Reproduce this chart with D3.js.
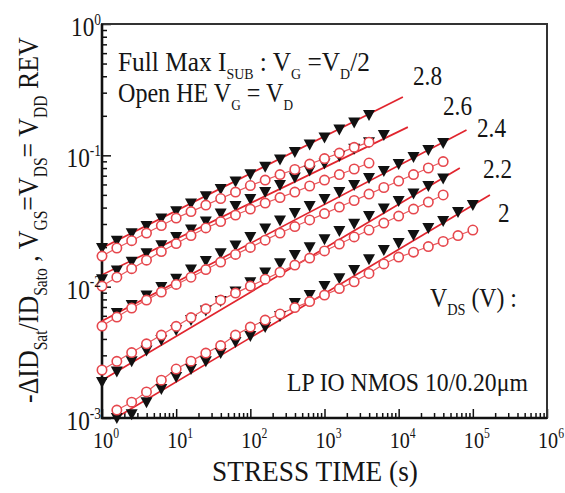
<!DOCTYPE html>
<html>
<head>
<meta charset="utf-8">
<script src="https://cdn.jsdelivr.net/npm/d3@7"></script>
<style>
  html, body { margin: 0; padding: 0; background: #fff; }
  svg text { font-family: "Liberation Serif", "Times New Roman", serif; fill: #151515; }
</style>
</head>
<body>
<div id="chart"></div>
<script>
// stress times, 5 points per decade
const stressTime = [1, 1.585, 2.512, 3.981, 6.310, 10, 15.85, 25.12, 39.81, 63.10,
  100, 158.5, 251.2, 398.1, 631.0, 1000, 1585, 2512, 3981, 6310,
  10000, 15850, 25120, 39810, 63100, 100000];

const vdsLabels = ["2.8", "2.6", "2.4", "2.2", "2"];

// Full Max ISUB (filled triangles), first point index into stressTime
const triStart = [0, 0, 1, 0, 1];
const tri28 = [0.0197, 0.0224, 0.0255, 0.0290, 0.0330, 0.0376, 0.0429, 0.0488, 0.0555, 0.0632,
  0.0719, 0.0818, 0.0931, 0.106, 0.121, 0.137, 0.157, 0.178, 0.203];
const tri26 = [0.0114, 0.0133, 0.0155, 0.0180, 0.0207, 0.0239, 0.0272, 0.0313, 0.0360, 0.0411,
  0.0465, 0.0525, 0.0594, 0.0677, 0.0766, 0.0866, 0.0988, 0.112, 0.126, 0.143];
const tri24 = [0.00629, 0.00724, 0.00855, 0.00993, 0.0115, 0.0135, 0.0157, 0.0180, 0.0206, 0.0239,
  0.0277, 0.0319, 0.0364, 0.0411, 0.0465, 0.0525, 0.0594, 0.0671, 0.0759, 0.0858, 0.0971, 0.110, 0.124];
const tri22 = [0.00188, 0.00226, 0.00271, 0.00326, 0.00392, 0.00467, 0.00557, 0.00658, 0.00777, 0.00918,
  0.0108, 0.0128, 0.0151, 0.0174, 0.0200, 0.0230, 0.0265, 0.0302, 0.0345, 0.0393, 0.0449, 0.0512, 0.0584, 0.0666];
const tri20 = [0.00100, 0.00107, 0.00132, 0.00166, 0.00205, 0.00236, 0.00271, 0.00312, 0.00379, 0.00421,
  0.00492, 0.00597, 0.00750, 0.00863, 0.0101, 0.0116, 0.0134, 0.0162, 0.0190, 0.0215, 0.0247, 0.0280, 0.0316, 0.0370, 0.0418];

// Open HE (open circles)
const circStart = [0, 0, 0, 0, 1];
const circ28 = [0.0171, 0.0197, 0.0224, 0.0256, 0.0292, 0.0333, 0.0373, 0.0418, 0.0469, 0.0525,
  0.0589, 0.0648, 0.0714, 0.0780, 0.0858, 0.0945, 0.104, 0.115, 0.126];
const circ26 = [0.0101, 0.0118, 0.0137, 0.0159, 0.0185, 0.0213, 0.0245, 0.0280, 0.0313, 0.0351,
  0.0390, 0.0433, 0.0477, 0.0525, 0.0584, 0.0648, 0.0714, 0.0787, 0.0874];
const circ24 = [0.00501, 0.00587, 0.00687, 0.00791, 0.00910, 0.0104, 0.0118, 0.0135, 0.0154, 0.0176,
  0.0199, 0.0226, 0.0256, 0.0287, 0.0322, 0.0360, 0.0404, 0.0453, 0.0507, 0.0569, 0.0637, 0.0714, 0.0801, 0.0897];
const circ22 = [0.00232, 0.00270, 0.00315, 0.00367, 0.00428, 0.00499, 0.00582, 0.00678, 0.00791, 0.00893,
  0.0101, 0.0114, 0.0129, 0.0146, 0.0165, 0.0187, 0.0211, 0.0239, 0.0270, 0.0305, 0.0345, 0.0390, 0.0441, 0.0499];
const circ20 = [0.00115, 0.00132, 0.00158, 0.00194, 0.00236, 0.00271, 0.00312, 0.00356, 0.00428, 0.00492,
  0.00557, 0.00619, 0.00693, 0.00770, 0.00863, 0.00967, 0.0109, 0.0126, 0.0149, 0.0168, 0.0183, 0.0202, 0.0221, 0.0245, 0.0270];

// power-law fit lines, from t = 1 s to the end time
const fitEndTime = [11400, 13300, 82200, 66800, 170000];
const fitStartValue = [0.0197, 0.0123, 0.00547, 0.00194, 0.000868];
const fitEndValue = [0.278, 0.164, 0.156, 0.0800, 0.0498];

// axis ticks
const xMajor = [1, 10, 100, 1e3, 1e4, 1e5, 1e6];
const xExp = ["0", "1", "2", "3", "4", "5", "6"];
const yMajor = [1, 0.1, 0.01, 0.001];
const yExp = ["0", "-1", "-2", "-3"];

const triValues = [tri28, tri26, tri24, tri22, tri20];
const circValues = [circ28, circ26, circ24, circ22, circ20];

function pairs(values, start) {
  return values.map((v, i) => ({ t: stressTime[start + i], v: v }));
}

const margin = { top: 24, right: 18, bottom: 75, left: 102 };
const width = 565 - margin.left - margin.right;
const height = 493 - margin.top - margin.bottom;

const root = d3.select("#chart")
  .append("svg")
  .attr("width", 565)
  .attr("height", 493);

const svg = root.append("g")
  .attr("transform", `translate(${margin.left},${margin.top})`);

const x = d3.scaleLog().domain([1, 1e6]).range([0, width]);
const y = d3.scaleLog().domain([1e-3, 1]).range([height, 0]);

// text helper: serif text with sub/superscripts, squeezed horizontally like the scan
function addText(parent, px, py, parts, opts) {
  const g = parent.append("g")
    .attr("transform", `translate(${px},${py})` + (opts.rotate ? ` rotate(${opts.rotate})` : ""));
  const t = g.append("text").attr("font-size", opts.size);
  const subScale = opts.subScale || 0.6;
  let shift = 0;
  parts.forEach(p => {
    const kind = Array.isArray(p) ? p[1] : "n";
    const str = Array.isArray(p) ? p[0] : p;
    let target = 0, fs = opts.size;
    if (kind === "sub") { target = opts.size * 0.3; fs = opts.size * subScale; }
    if (kind === "sup") { target = -opts.size * 0.42; fs = opts.size * 0.58; }
    t.append("tspan")
      .attr("dy", target - shift)
      .attr("font-size", fs)
      .text(str);
    shift = target;
  });
  const w = t.node().getComputedTextLength();
  const sx = opts.width ? opts.width / w : (opts.sx || 0.86);
  let dx = 0;
  if (opts.anchor === "middle") dx = -w * sx / 2;
  if (opts.anchor === "end") dx = -w * sx;
  t.attr("transform", `translate(${dx},0) scale(${sx},1)`);
  return t;
}

// clip for the fit lines
svg.append("clipPath").attr("id", "plotClip")
  .append("rect").attr("width", width).attr("height", height);

// Minor and major ticks (pointing inward)
const xMinor = [];
const yMinor = [];
for (let d = 0; d < 6; d++) for (let k = 2; k <= 9; k++) xMinor.push(k * Math.pow(10, d));
for (let d = -3; d < 0; d++) for (let k = 2; k <= 9; k++) yMinor.push(k * Math.pow(10, d));

svg.append("g")
  .attr("class", "x-axis")
  .attr("transform", `translate(0,${height})`)
  .call(d3.axisBottom(x).tickValues(xMinor).tickSize(-5).tickFormat(""))
  .call(g => g.select(".domain").remove());
svg.append("g")
  .attr("class", "x-axis")
  .attr("transform", `translate(0,${height})`)
  .call(d3.axisBottom(x).tickValues(xMajor).tickSize(-9).tickFormat(""))
  .call(g => g.select(".domain").remove());
svg.append("g")
  .attr("class", "y-axis")
  .call(d3.axisLeft(y).tickValues(yMinor).tickSize(-5).tickFormat(""))
  .call(g => g.select(".domain").remove());
svg.append("g")
  .attr("class", "y-axis")
  .call(d3.axisLeft(y).tickValues(yMajor).tickSize(-9).tickFormat(""))
  .call(g => g.select(".domain").remove());
svg.selectAll(".tick line").attr("stroke", "#111").attr("stroke-width", 1.5);

// frame
svg.append("rect")
  .attr("width", width).attr("height", height)
  .attr("fill", "none").attr("stroke", "#333").attr("stroke-width", 2);
svg.append("path")
  .attr("d", `M0,0V${height}H${width}`)
  .attr("fill", "none").attr("stroke", "#111").attr("stroke-width", 2.6);

// fit lines
const line = d3.line().x(d => x(d.t)).y(d => y(d.v));
vdsLabels.forEach((lab, i) => {
  svg.append("path")
    .datum([{ t: 1, v: fitStartValue[i] }, { t: fitEndTime[i], v: fitEndValue[i] }])
    .attr("clip-path", "url(#plotClip)")
    .attr("d", line)
    .attr("fill", "none")
    .attr("stroke", "#e1252e")
    .attr("stroke-width", 1.7);
});

// open HE connector lines
vdsLabels.forEach((lab, i) => {
  svg.append("path")
    .datum(pairs(circValues[i], circStart[i]))
    .attr("d", line)
    .attr("fill", "none")
    .attr("stroke", "#e9585d")
    .attr("stroke-width", 1.2);
});

// triangles
const triPath = "M-6,-5L6,-5L0,6Z";
vdsLabels.forEach((lab, i) => {
  svg.append("g").selectAll(".tri")
    .data(pairs(triValues[i], triStart[i]))
    .enter()
    .append("path")
    .attr("class", "tri")
    .attr("d", triPath)
    .attr("transform", d => `translate(${x(d.t)},${y(d.v)})`)
    .attr("fill", "#111");
});

// circles
vdsLabels.forEach((lab, i) => {
  svg.append("g").selectAll(".circ")
    .data(pairs(circValues[i], circStart[i]))
    .enter()
    .append("circle")
    .attr("class", "circ")
    .attr("cx", d => x(d.t))
    .attr("cy", d => y(d.v))
    .attr("r", 4.7)
    .attr("fill", "#fff")
    .attr("stroke", "#e6474d")
    .attr("stroke-width", 1.6);
});

// tick labels
xMajor.forEach((v, i) => {
  addText(svg, x(v) + 4, height + 30, ["10", [xExp[i], "sup"]], { size: 24, sx: 0.84, anchor: "middle" });
});
yMajor.forEach((v, i) => {
  addText(svg, -1, y(v) + 12, ["10", [yExp[i], "sup"]], { size: 27, sx: 0.86, anchor: "end" });
});

// axis titles
addText(root, 212, 481, ["STRESS TIME (s)"], { size: 30, width: 206 });
addText(root, 38, 403,
  ["-\u0394ID", ["Sat", "sub"], "/ID", ["Sato", "sub"], " , V", ["GS", "sub"], "=V", ["DS", "sub"],
   "= V", ["DD", "sub"], " REV"],
  { size: 30, width: 366, rotate: -90 });

// annotations
addText(root, 118, 71, ["Full Max  I", ["SUB", "sub"], " : V", ["G", "sub"], " =V", ["D", "sub"], "/2"],
  { size: 27, width: 252, subScale: 0.55 });
addText(root, 118, 102, ["Open HE V", ["G", "sub"], " = V", ["D", "sub"]], { size: 27, width: 175, subScale: 0.55 });
addText(root, 430, 307, ["V", ["DS", "sub"], " (V) :"], { size: 27, width: 87 });
addText(root, 287, 391, ["LP IO NMOS 10/0.20\u03bcm"], { size: 26, width: 241 });

// VDS labels at the ends of the fit lines
const labelPos = [[413, 85], [443, 115], [477, 137], [483, 178], [498, 222]];
vdsLabels.forEach((lab, i) => {
  addText(root, labelPos[i][0], labelPos[i][1], [lab], { size: 27, sx: 0.86 });
});
</script>
</body>
</html>
